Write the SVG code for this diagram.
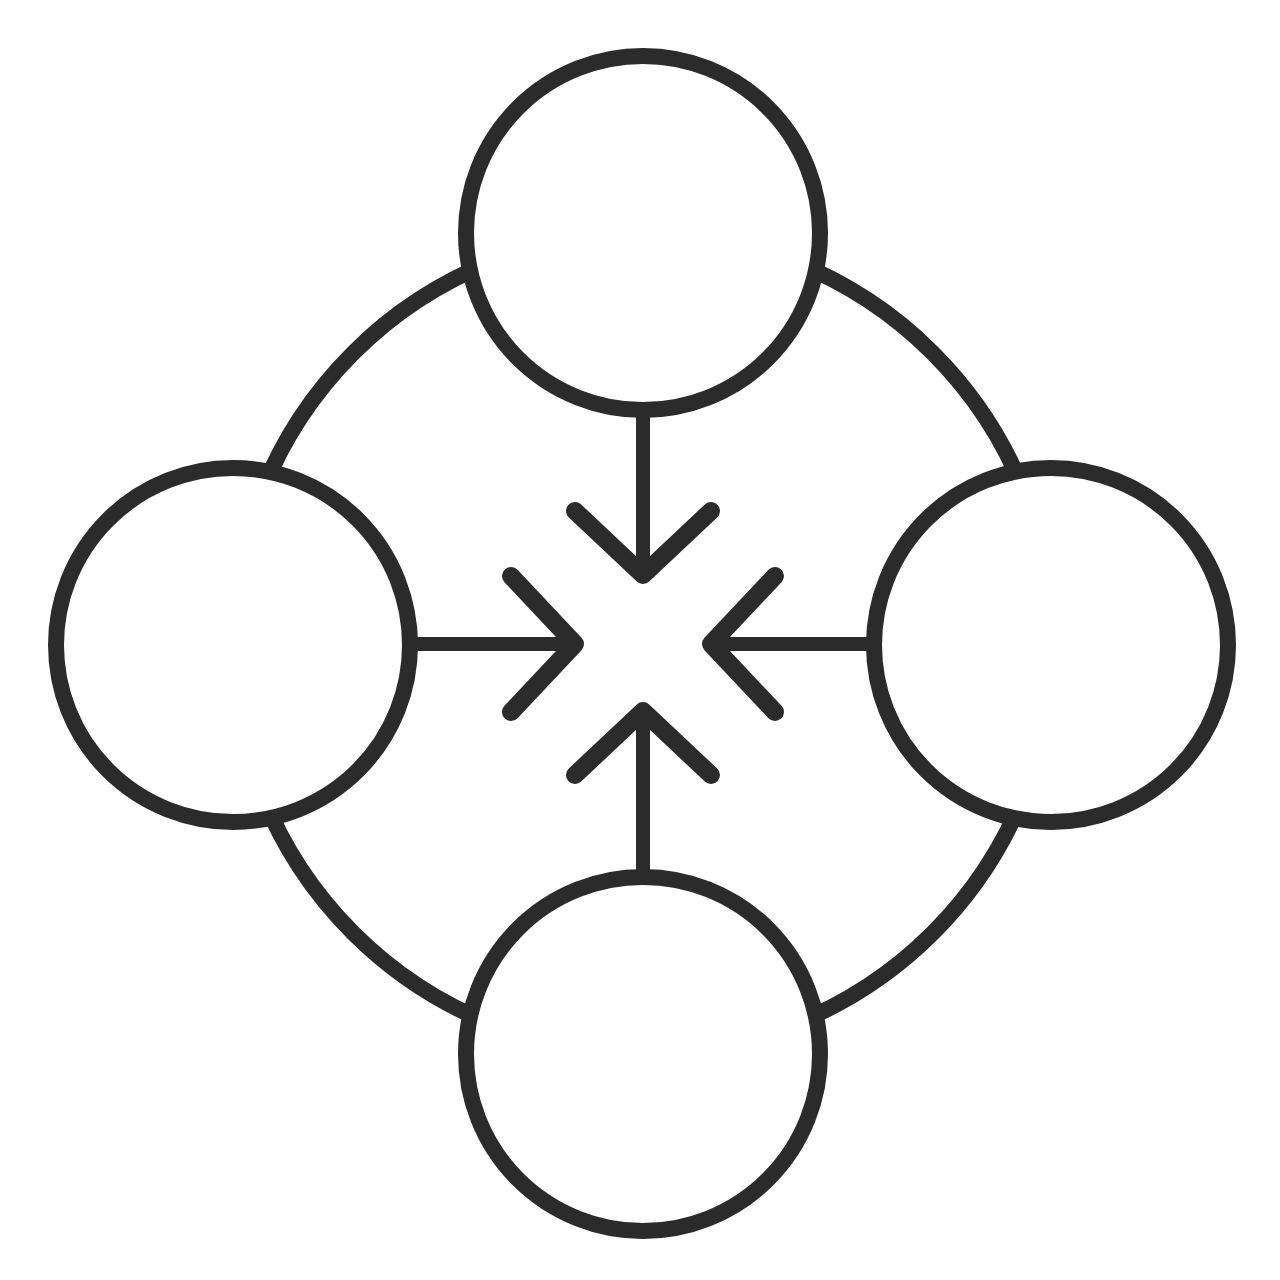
<svg xmlns="http://www.w3.org/2000/svg" width="1280" height="1280" viewBox="0 0 1280 1280">
<style>
.ln{fill:none;stroke:#2b2b2b;stroke-width:16;stroke-linecap:round;stroke-linejoin:round}
.sh{fill:none;stroke:#2b2b2b;stroke-width:14;stroke-linecap:butt}
.hd{fill:none;stroke:#2b2b2b;stroke-width:18;stroke-linecap:round;stroke-linejoin:round}
.nd{fill:#ffffff;stroke:#2b2b2b;stroke-width:16}
</style>
<rect width="1280" height="1280" fill="#ffffff"/>
<g id="connectors">
<circle class="ln" cx="643" cy="643" r="410"/>
<path class="sh" d="M643 410V572"/>
<path class="hd" d="M575 511L643 575L711 511"/>
<path class="sh" d="M410 644H572"/>
<path class="hd" d="M511 576L575 644L511 712"/>
<path class="sh" d="M876 644H714"/>
<path class="hd" d="M775 576L711 644L775 712"/>
<path class="sh" d="M643 876V714"/>
<path class="hd" d="M575 775L643 711L711 775"/>
</g>
<g id="node-top"><circle class="nd" cx="643" cy="233" r="177"/></g>
<g id="node-left"><circle class="nd" cx="233" cy="645" r="177"/></g>
<g id="node-right"><circle class="nd" cx="1051" cy="645" r="177"/></g>
<g id="node-bottom"><circle class="nd" cx="643" cy="1054" r="177"/></g>
</svg>
